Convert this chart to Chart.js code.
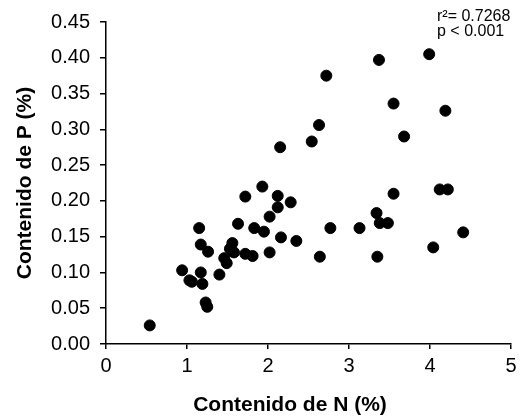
<!DOCTYPE html>
<html>
<head>
<meta charset="utf-8">
<script src="https://cdn.jsdelivr.net/npm/chart.js@4.4.3/dist/chart.umd.min.js"></script>
<style>
  html,body{margin:0;padding:0;background:#fff;}
  #wrap{width:532px;height:416px;position:relative;}
</style>
</head>
<body>
<div id="wrap"><canvas id="c" width="532" height="416"></canvas></div>
<script>
// N content (%) and P content (%)
const nValues = [0.54, 0.94, 1.03, 1.06, 1.17, 1.19, 1.15, 1.17, 1.23, 1.25, 1.26, 1.40, 1.46, 1.49,
  1.53, 1.56, 1.58, 1.63, 1.72, 1.72, 1.81, 1.83, 1.93, 1.95, 2.02, 2.02, 2.12, 2.12, 2.15, 2.16,
  2.28, 2.35, 2.54, 2.63, 2.64, 2.72, 2.77, 3.13, 3.34, 3.35, 3.37, 3.38, 3.48, 3.55, 3.55, 3.68,
  3.99, 4.04, 4.12, 4.19, 4.22, 4.41];
const pValues = [0.026, 0.103, 0.089, 0.087, 0.100, 0.084, 0.162, 0.139, 0.058, 0.052, 0.129, 0.097, 0.120, 0.113,
  0.133, 0.141, 0.128, 0.168, 0.206, 0.126, 0.123, 0.162, 0.220, 0.157, 0.178, 0.128, 0.207, 0.191, 0.275, 0.149,
  0.198, 0.144, 0.283, 0.306, 0.122, 0.375, 0.162, 0.162, 0.183, 0.122, 0.397, 0.169, 0.169, 0.336, 0.210, 0.290,
  0.405, 0.135, 0.216, 0.326, 0.216, 0.156];
const xTicks = [0, 1, 2, 3, 4, 5];
const statLines = ['r\u00B2= 0.7268', 'p < 0.001'];
const xTitle = 'Contenido de N (%)';

const pts = nValues.map((n, i) => ({ x: n, y: pValues[i] }));
const FONT = '"Liberation Sans", Arial, sans-serif';

// stats note + x title (the original title sits left of the plot centre)
const extraText = {
  id: 'extraText',
  afterDraw(chart) {
    const ctx = chart.ctx;
    ctx.save();
    ctx.fillStyle = '#000';
    ctx.textBaseline = 'middle';
    ctx.font = '16px ' + FONT;
    ctx.fillText(statLines[0], 437, 17);
    ctx.fillText(statLines[1], 437, 32);
    ctx.font = 'bold 21px ' + FONT;
    ctx.textAlign = 'center';
    ctx.fillText(xTitle, 290, 405);
    ctx.restore();
  }
};

new Chart(document.getElementById('c').getContext('2d'), {
  type: 'scatter',
  data: {
    datasets: [{
      data: pts,
      backgroundColor: '#000',
      borderColor: '#000',
      pointRadius: 5.5,
      pointHoverRadius: 5.5
    }]
  },
  options: {
    responsive: false,
    animation: false,
    layout: { padding: { top: 20, right: 21, left: 0, bottom: 0 } },
    plugins: { legend: { display: false }, tooltip: { enabled: false } },
    scales: {
      x: {
        type: 'linear', min: 0, max: 5,
        afterFit(s) { s.height = 72; },
        afterBuildTicks(s) { s.ticks = xTicks.map(v => ({ value: v })); },
        border: { display: true, color: '#000', width: 1.5 },
        grid: { display: true, drawOnChartArea: false, drawTicks: true, tickLength: 5, color: '#000', lineWidth: 1.5 },
        ticks: { color: '#000', font: { family: FONT, size: 20 }, padding: 5 },
        title: { display: false }
      },
      y: {
        type: 'linear', min: 0, max: 0.45,
        afterFit(s) { s.width = 106; },
        border: { display: true, color: '#000', width: 1.5 },
        grid: { display: true, drawOnChartArea: false, drawTicks: true, tickLength: 6, color: '#000', lineWidth: 1.5 },
        ticks: { stepSize: 0.05, color: '#000', font: { family: FONT, size: 20 }, padding: 10,
          callback: v => v.toFixed(2) },
        title: { display: true, text: 'Contenido de P (%)', color: '#000', font: { family: FONT, size: 21, weight: 'bold' }, padding: { top: 13, bottom: 0 } }
      }
    }
  },
  plugins: [extraText]
});
</script>
</body>
</html>
